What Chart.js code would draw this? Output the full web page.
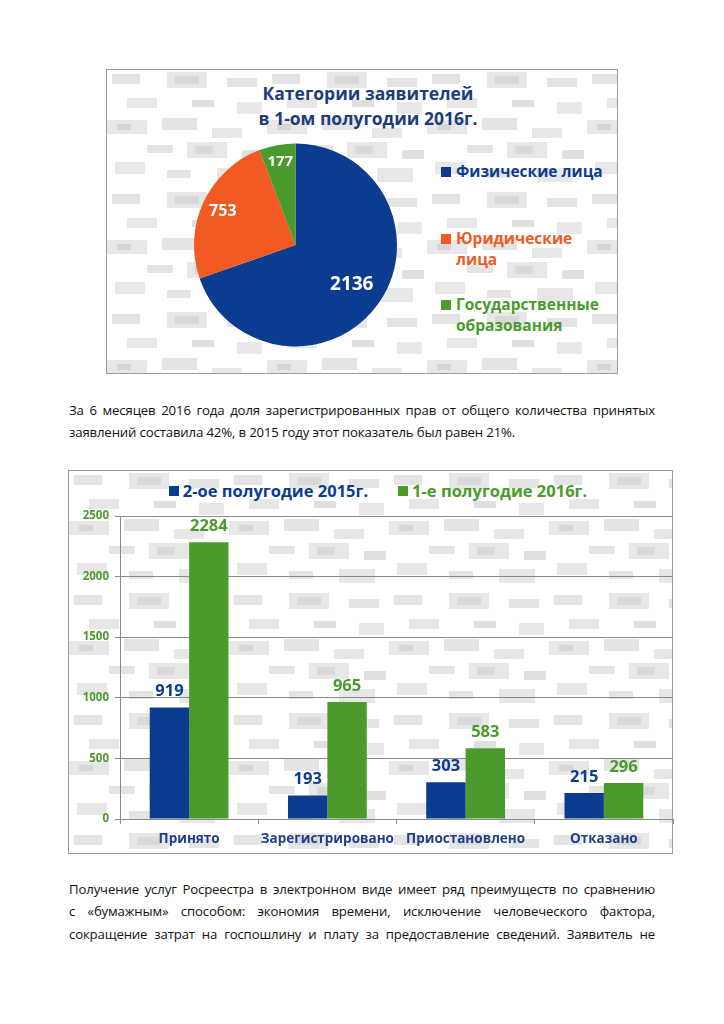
<!DOCTYPE html>
<html><head><meta charset="utf-8">
<script src="https://cdn.jsdelivr.net/npm/chart.js@4.4.1/dist/chart.umd.min.js"></script>
<style>
html,body{margin:0;padding:0;background:#fff;}
body{width:724px;height:1024px;position:relative;overflow:hidden;font-family:"Open Sans",sans-serif;}
.box{position:absolute;border:1px solid #9d9d9d;box-sizing:border-box;background-color:#fff;
background-image:url("data:image/svg+xml;utf8,<svg xmlns='http://www.w3.org/2000/svg' width='160' height='120'><rect x='5' y='4' width='28' height='10' fill='%23e4e4e4'/><rect x='60' y='2' width='40' height='16' fill='%23e7e7e7'/><rect x='68' y='6' width='24' height='8' fill='%23d9d9d9'/><rect x='120' y='8' width='30' height='9' fill='%23e4e4e4'/><rect x='20' y='28' width='30' height='10' fill='%23e7e7e7'/><rect x='85' y='30' width='22' height='7' fill='%23dfdfdf'/><rect x='130' y='32' width='25' height='12' fill='%23e7e7e7'/><rect x='0' y='50' width='40' height='14' fill='%23e7e7e7'/><rect x='10' y='54' width='14' height='6' fill='%23d6d6d6'/><rect x='55' y='48' width='35' height='12' fill='%23e4e4e4'/><rect x='105' y='58' width='30' height='10' fill='%23e7e7e7'/><rect x='40' y='75' width='26' height='8' fill='%23e4e4e4'/><rect x='80' y='72' width='40' height='16' fill='%23e7e7e7'/><rect x='88' y='76' width='18' height='8' fill='%23d9d9d9'/><rect x='135' y='80' width='22' height='9' fill='%23dfdfdf'/><rect x='8' y='92' width='30' height='12' fill='%23e7e7e7'/><rect x='60' y='100' width='24' height='8' fill='%23e4e4e4'/><rect x='110' y='98' width='36' height='14' fill='%23e7e7e7'/></svg>");}
#box1{left:106px;top:69px;width:512px;height:305px;}
#box2{left:68px;top:470px;width:605px;height:384px;}
canvas{position:absolute;}
#pieTitle{position:absolute;left:106px;width:524px;top:81px;text-align:center;font-weight:700;font-size:17.5px;line-height:25px;color:#1e3c7b;}
#pieLegend{position:absolute;left:441px;top:161px;width:165px;}
.pl{position:absolute;left:0;width:165px;font-weight:700;font-size:15.5px;line-height:21px;padding-left:15px;box-sizing:border-box;}
.pl .sq{position:absolute;left:0;top:6px;width:10px;height:10px;}
#barLegend{position:absolute;left:0;width:724px;top:480px;text-align:center;font-weight:700;font-size:16.5px;line-height:22px;padding-left:32px;box-sizing:border-box;}
.bl{display:inline-block;position:relative;padding-left:14px;margin:0 15px;}
.bl .sq{position:absolute;left:0;top:6px;width:10px;height:10px;}
.txt{position:absolute;left:69px;width:586px;font-size:13.2px;color:#111;white-space:nowrap;letter-spacing:-0.15px;}
.j{text-align:justify;text-align-last:justify;}
</style></head>
<body>
<div class="box" id="box1"></div>
<div class="box" id="box2"></div>
<div id="pieTitle"></div>
<div id="pieLegend"></div>
<div id="barLegend"></div>
<canvas id="pie" width="512" height="305" style="left:106px;top:69px;width:512px;height:305px;"></canvas>
<canvas id="bar" width="607" height="384" style="left:68px;top:470px;width:607px;height:384px;"></canvas>

<div class="txt j" style="top:401px;">За 6 месяцев 2016 года доля зарегистрированных прав от общего количества принятых</div>
<div class="txt" style="top:423px;">заявлений составила 42%, в 2015 году этот показатель был равен 21%.</div>
<div class="txt j" style="top:880px;">Получение услуг Росреестра в электронном виде имеет ряд преимуществ по сравнению</div>
<div class="txt j" style="top:902px;">с «бумажным» способом: экономия времени, исключение человеческого фактора,</div>
<div class="txt j" style="top:925px;">сокращение затрат на госпошлину и плату за предоставление сведений. Заявитель не</div>

<script>
// ---- data ----
const pieTitleLines = ['Категории заявителей', 'в 1-ом полугодии 2016г.'];
const pieCategories = ['Физические лица', 'Юридические лица', 'Государственные образования'];
const pieValues = [2136, 753, 177];

const barCategories = ['Принято', 'Зарегистрировано', 'Приостановлено', 'Отказано'];
const barSeriesNames = ['2-ое полугодие 2015г.', '1-е полугодие 2016г.'];
const series2015 = [919, 193, 303, 215];
const series2016 = [2284, 965, 583, 296];
const yTicks = [0, 500, 1000, 1500, 2000, 2500];

// ---- styles ----
const BLUE = '#0b3c8f', ORANGE = '#f25a24', GREEN = '#4a9a2c';
const pieColors = [BLUE, ORANGE, GREEN];
const pieLabelRadius = [0.68, 0.79, 0.83];
const pieLabelSize = [19, 16, 15];
const pieLegendStep = 66.5;
const FONT = '"Open Sans", sans-serif';

// titles & legends (HTML text)
document.getElementById('pieTitle').innerHTML = pieTitleLines.join('<br>');
document.getElementById('pieLegend').innerHTML = pieCategories.map((c, i) =>
  `<div class="pl" style="top:${i * pieLegendStep}px;color:${pieColors[i]}"><span class="sq" style="background:${pieColors[i]}"></span>${c}</div>`).join('');
const barColors = [BLUE, GREEN];
document.getElementById('barLegend').innerHTML = barSeriesNames.map((c, i) =>
  `<span class="bl" style="color:${barColors[i]}"><span class="sq" style="background:${barColors[i]}"></span>${c}</span>`).join('');

Chart.defaults.font.family = FONT;

const pieLabels = {
  id: 'pieLabels',
  afterDatasetsDraw(chart) {
    const ctx = chart.ctx;
    const meta = chart.getDatasetMeta(0);
    meta.data.forEach((arc, i) => {
      const mid = (arc.startAngle + arc.endAngle) / 2;
      const r = arc.outerRadius * pieLabelRadius[i];
      const x = arc.x + Math.cos(mid) * r, y = arc.y + Math.sin(mid) * r;
      ctx.save();
      ctx.fillStyle = '#fff';
      ctx.font = `bold ${pieLabelSize[i]}px ${FONT}`;
      ctx.textAlign = 'center'; ctx.textBaseline = 'middle';
      ctx.fillText(String(chart.data.datasets[0].data[i]), x, y);
      ctx.restore();
    });
  }
};

new Chart(document.getElementById('pie'), {
  type: 'pie',
  data: { labels: pieCategories, datasets: [{ data: pieValues, backgroundColor: pieColors, borderWidth: 0 }] },
  options: {
    responsive: false, animation: false,
    layout: { padding: { left: 88, top: 74, right: 221, bottom: 27 } },
    plugins: { legend: { display: false }, tooltip: { enabled: false } }
  },
  plugins: [pieLabels]
});

const barLabels = {
  id: 'barLabels',
  afterDatasetsDraw(chart) {
    const ctx = chart.ctx;
    chart.data.datasets.forEach((ds, di) => {
      chart.getDatasetMeta(di).data.forEach((bar, i) => {
        ctx.save();
        ctx.fillStyle = ds.backgroundColor;
        ctx.font = `bold 16.5px ${FONT}`;
        ctx.textAlign = 'center'; ctx.textBaseline = 'middle';
        ctx.fillText(String(ds.data[i]), bar.x, bar.y - 16);
        ctx.restore();
      });
    });
  }
};

new Chart(document.getElementById('bar'), {
  type: 'bar',
  data: {
    labels: barCategories,
    datasets: [
      { label: barSeriesNames[0], data: series2015, backgroundColor: BLUE, categoryPercentage: 0.57, barPercentage: 1 },
      { label: barSeriesNames[1], data: series2016, backgroundColor: GREEN, categoryPercentage: 0.57, barPercentage: 1 }
    ]
  },
  options: {
    responsive: false, animation: false,
    layout: { padding: { top: 46, right: 2, left: 0, bottom: 0 } },
    plugins: { legend: { display: false }, tooltip: { enabled: false } },
    scales: {
      x: {
        grid: { display: true, drawOnChartArea: false, offset: true, color: '#8a8a8a', tickLength: 5 },
        border: { color: '#8a8a8a' },
        ticks: { font: { weight: 'bold', size: 13.5 }, color: '#1f3f8c', padding: 7, maxRotation: 0, autoSkip: false },
        afterFit(s) { s.height = 35; }
      },
      y: {
        min: 0, max: 2500,
        afterBuildTicks(s) { s.ticks = yTicks.map(v => ({ value: v })); },
        ticks: { font: { weight: 'bold', size: 11.5 }, color: '#4e9a2e', padding: 6, callback: v => String(v) },
        grid: { color: '#8a8a8a', tickLength: 5 },
        border: { color: '#8a8a8a' },
        afterFit(s) { s.width = 52; }
      }
    }
  },
  plugins: [barLabels]
});
</script>
</body></html>
